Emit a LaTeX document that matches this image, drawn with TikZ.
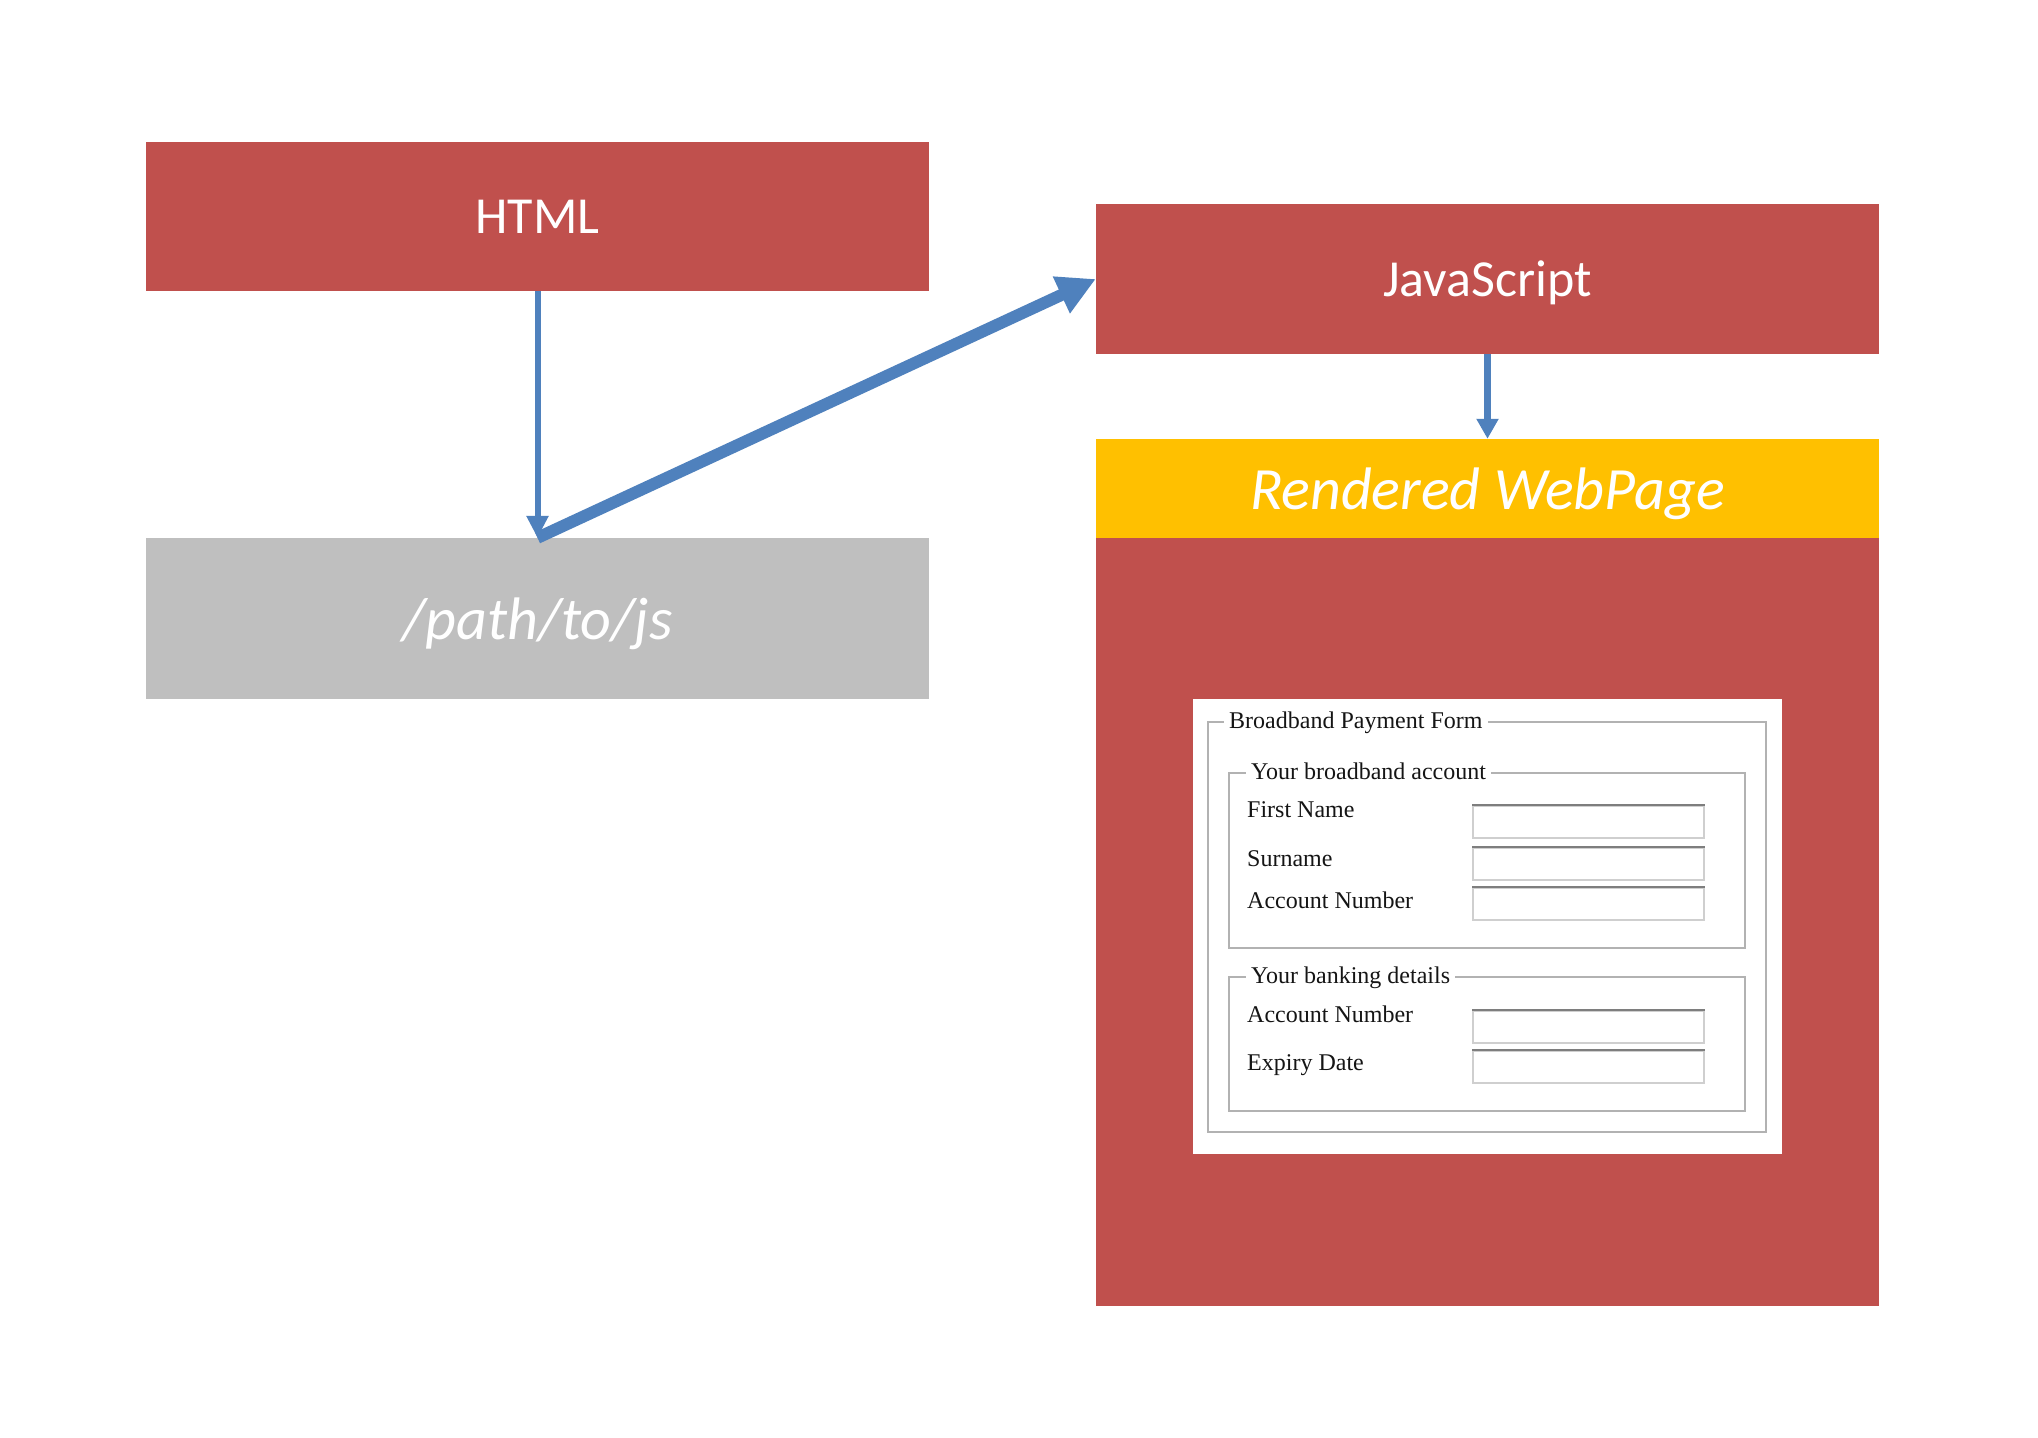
\documentclass[tikz,border=0pt]{standalone}
\usepackage{fontspec}
\setmainfont{Carlito}
\newfontfamily\formfont{Liberation Serif}
\usetikzlibrary{arrows.meta}
\definecolor{boxred}{HTML}{C0504D}
\definecolor{boxgold}{HTML}{FFC000}
\definecolor{boxgray}{HTML}{BFBFBF}
\definecolor{arrowblue}{HTML}{4F81BD}
\definecolor{fsgray}{HTML}{B2B2B2}
\definecolor{inputdark}{HTML}{7E7E7E}
\definecolor{inputlight}{HTML}{CFCFCF}
\definecolor{formtext}{HTML}{151515}
\begin{document}
\begin{tikzpicture}[x=1pt,y=-1pt,
  block/.style={rectangle, inner sep=0pt, text=white, minimum width=783pt, text depth=0pt},
  bigtext/.style={font=\fontsize{52}{62}\selectfont},
  italtext/.style={font=\fontsize{60}{72}\selectfont\itshape},
  thinflow/.style={draw=arrowblue, line width=6pt, -{Triangle[length=22pt,width=21pt]}},
  thickflow/.style={draw=arrowblue, line width=12pt, -{Triangle[length=38pt,width=38pt]}},
  midflow/.style={draw=arrowblue, line width=7pt, -{Triangle[length=20pt,width=21pt]}},
  fieldset/.style={draw=fsgray, line width=1.6pt},
  legendtext/.style={font=\formfont\fontsize{24}{28}\selectfont, fill=white, text=formtext, inner xsep=5pt, inner ysep=2pt, anchor=base west},
  formlabel/.style={font=\formfont\fontsize{24}{28}\selectfont, text=formtext, inner sep=0pt, anchor=base west},
  inputbox/.style={draw=inputlight, line width=1.6pt, fill=white, rectangle, inner sep=0pt, minimum width=231pt, minimum height=32pt, anchor=north west}
]
\useasboundingbox[fill=white] (0,0) rectangle (2038,1438);

% main blocks
\node[block, fill=boxred, minimum height=149pt, bigtext] (html) at (537.5,216.5) {HTML};
\node[block, fill=boxred, minimum height=150pt, bigtext] (js) at (1487.5,279) {JavaScript};
\node[block, fill=boxgray, minimum height=161pt, italtext] (path) at (537.5,618.5) {/path/to/js};
\node[block, fill=boxgold, minimum height=99pt, italtext] (render) at (1487.5,488.5) {Rendered WebPage};
\node[block, fill=boxred, minimum height=768pt] (page) at (1487.5,922) {};
\node[rectangle, fill=white, inner sep=0pt, minimum width=589pt, minimum height=455pt] (form) at (1487.5,926.5) {};

% connectors
\draw[thinflow] (html.south) -- (path.north);
\draw[thickflow] (path.north) -- (js.west);
\draw[midflow] (js.south) -- (render.north);

% form fieldsets
\draw[fieldset] (1208,722) rectangle (1766,1132);
\draw[fieldset] (1229,773) rectangle (1745,948);
\draw[fieldset] (1229,977) rectangle (1745,1111);

\node[legendtext] (lgform) at (1224,728) {Broadband Payment Form};
\node[legendtext] (lgacct) at (1246,779) {Your broadband account};
\node[legendtext] (lgbank) at (1246,983) {Your banking details};

% labels
\node[formlabel] (lfirst) at (1247,817) {First Name};
\node[formlabel] (lsur) at (1247,866) {Surname};
\node[formlabel] (lacct) at (1247,908) {Account Number};
\node[formlabel] (lbacct) at (1247,1022) {Account Number};
\node[formlabel] (lexp) at (1247,1070) {Expiry Date};

% inputs
\node[inputbox] (ifirst) at (1472,805) {};
\node[inputbox] (isur) at (1472,847) {};
\node[inputbox] (iacct) at (1472,887) {};
\node[inputbox] (ibacct) at (1472,1010) {};
\node[inputbox] (iexp) at (1472,1050) {};
\foreach \n in {ifirst,isur,iacct,ibacct,iexp}{
  \draw[inputdark, line width=1.6pt] (\n.north west) -- (\n.north east);
}
\end{tikzpicture}
\end{document}
